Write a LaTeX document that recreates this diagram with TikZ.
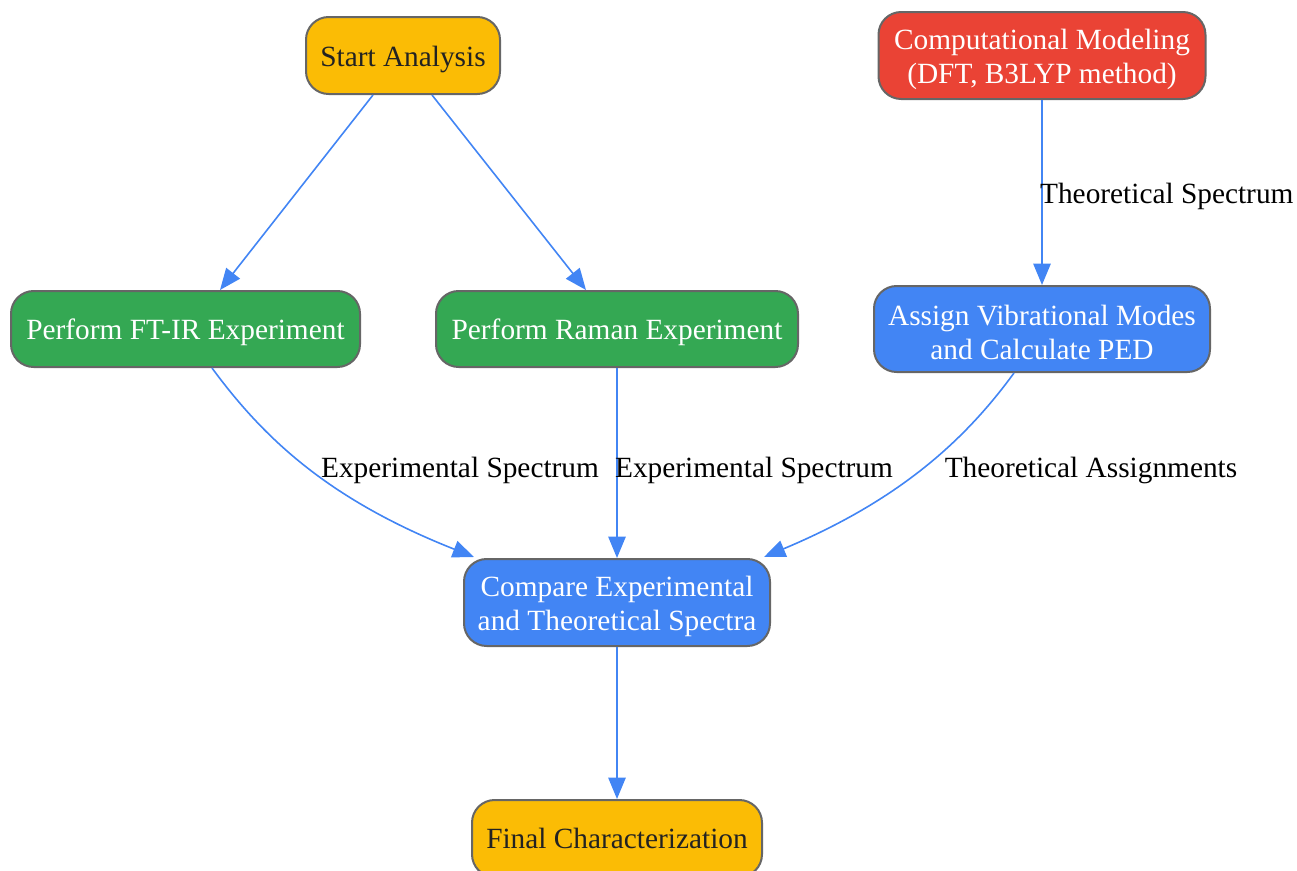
\documentclass[tikz,border=0pt]{standalone}
\usepackage{fontspec}
\setmainfont{Liberation Serif}
\usetikzlibrary{arrows.meta}
\definecolor{gyellow}{HTML}{FBBC05}
\definecolor{gred}{HTML}{EA4335}
\definecolor{ggreen}{HTML}{34A853}
\definecolor{gblue}{HTML}{4285F4}
\definecolor{gborder}{HTML}{666666}
\definecolor{gtext}{HTML}{222222}
\tikzset{
  box/.style={draw=gborder, line width=1.5pt, rounded corners=17pt, inner sep=0pt},
  ybox/.style={box, fill=gyellow},
  rbox/.style={box, fill=gred},
  gbox/.style={box, fill=ggreen},
  bbox/.style={box, fill=gblue},
  btext/.style={align=center, font=\fontsize{22pt}{25.5pt}\selectfont, inner sep=0pt, text=white},
  dtext/.style={btext, text=gtext},
  edge/.style={draw=gblue, line width=1.2pt, -{Triangle[length=16pt,width=13pt]}},
  elabel/.style={font=\fontsize{22pt}{25.5pt}\selectfont, text=black, inner sep=0pt},
}
\begin{document}
\begin{tikzpicture}[x=0.75pt,y=-0.75pt]
\useasboundingbox (0,0) rectangle (1297,871);
\node[ybox, minimum width=145.5pt, minimum height=57.75pt] (start) at (403,55.5) {};
\node[dtext] (startT) at ([yshift=-3.2pt]start.center) {Start Analysis};
\node[rbox, minimum width=245.25pt, minimum height=65.25pt] (comp) at (1042,55.5) {};
\node[btext] (compT) at ([yshift=-2.6pt]comp.center) {Computational Modeling\\(DFT, B3LYP method)};
\node[gbox, minimum width=261.75pt, minimum height=57pt] (ftir) at (185.5,329) {};
\node[btext] (ftirT) at ([yshift=-2.6pt]ftir.center) {Perform FT-IR Experiment};
\node[gbox, minimum width=271.5pt, minimum height=57pt] (raman) at (617,329) {};
\node[btext] (ramanT) at ([yshift=-2.6pt]raman.center) {Perform Raman Experiment};
\node[bbox, minimum width=252pt, minimum height=64.5pt] (assign) at (1042,329) {};
\node[btext] (assignT) at ([yshift=-2.6pt]assign.center) {Assign Vibrational Modes\\and Calculate PED};
\node[bbox, minimum width=229.5pt, minimum height=65.25pt] (compare) at (617,602.5) {};
\node[btext] (compareT) at ([yshift=-2.6pt]compare.center) {Compare Experimental\\and Theoretical Spectra};
\node[ybox, minimum width=217.5pt, minimum height=57.75pt] (final) at (617,838.5) {};
\node[dtext] (finalT) at ([yshift=-0.3pt]final.center) {Final Characterization};

\draw[edge] (start.south -| 373,0) -- (ftir.north -| 220,0);
\draw[edge] (start.south -| 432,0) -- (raman.north -| 586,0);
\draw[edge] (comp.south) -- node[elabel, anchor=west, xshift=-2pt, yshift=-3pt] (l1) {Theoretical Spectrum} (assign.north);
\draw[edge] (ftir.south -| 212,0) .. controls (265,440) and (330,500) .. (474,557);
\node[elabel] (l2) at (460,470) {Experimental Spectrum};
\draw[edge] (raman.south) -- node[elabel, anchor=west, xshift=-2pt, yshift=-5.5pt] (l3) {Experimental Spectrum} (compare.north);
\draw[edge] (assign.south -| 1014,0) .. controls (965,440) and (900,500) .. (764,557);
\node[elabel] (l4) at (1091,470) {Theoretical Assignments};
\draw[edge] (compare.south) -- (final.north);
\end{tikzpicture}
\end{document}
